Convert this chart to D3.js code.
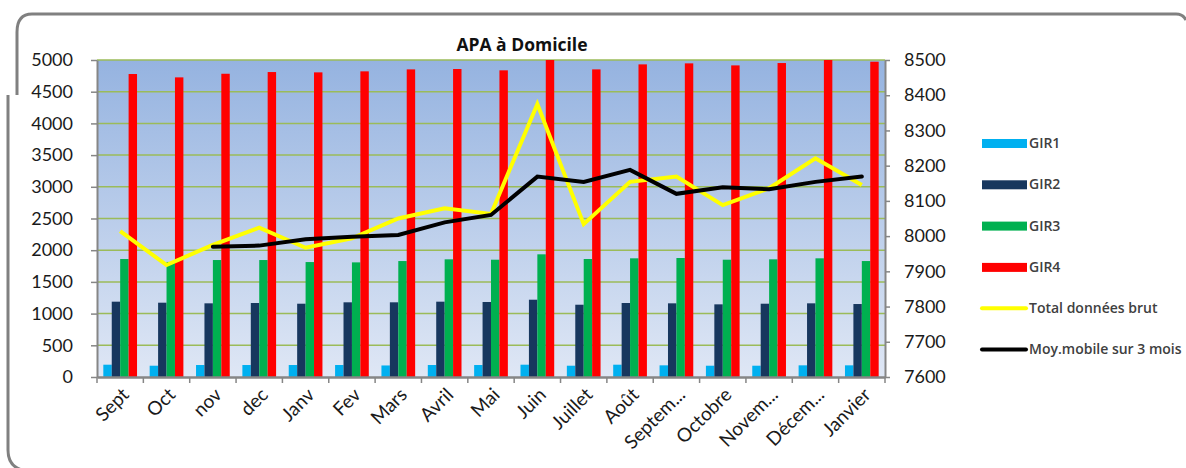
<!DOCTYPE html>
<html>
<head>
<meta charset="utf-8">
<script src="https://cdn.jsdelivr.net/npm/d3@7"></script>
<style>
  body { margin: 0; background: #fff; }
  text { font-family: Lato, "Open Sans", sans-serif; }
</style>
</head>
<body>
<div id="chart"></div>
<script>
// Data
const months = ["Sept", "Oct", "nov", "dec", "Janv", "Fev", "Mars", "Avril", "Mai", "Juin",
  "Juillet", "Août", "Septem...", "Octobre", "Novem...", "Décem...", "Janvier"];
const gir1 = [194, 178, 189, 189, 189, 189, 182, 189, 189, 194, 178, 194, 184, 178, 178, 184, 184];
const gir2 = [1188, 1172, 1162, 1167, 1156, 1178, 1178, 1188, 1183, 1219, 1140, 1167, 1162, 1146, 1156, 1162, 1151];
const gir3 = [1861, 1815, 1845, 1845, 1813, 1808, 1829, 1856, 1850, 1935, 1861, 1872, 1877, 1850, 1856, 1872, 1829];
const gir4 = [4779, 4726, 4783, 4810, 4805, 4821, 4852, 4858, 4837, 5030, 4852, 4931, 4947, 4915, 4952, 5010, 4973];
const total = [8014, 7918, 7975, 8024, 7967, 7994, 8050, 8079, 8063, 8375, 8034, 8154, 8169, 8088, 8136, 8221, 8145];
const moyMobile = [null, null, 7970, 7973, 7991, 7998, 8003, 8039, 8060, 8169, 8154, 8188, 8120, 8139, 8133, 8154, 8169];

const leftTicks = d3.range(0, 5001, 500);
const rightTicks = d3.range(7600, 8501, 100);

const barKeys = ["GIR1", "GIR2", "GIR3", "GIR4"];
const barSeries = [gir1, gir2, gir3, gir4];
const colors = { GIR1: "#00b0f0", GIR2: "#17375e", GIR3: "#00b050", GIR4: "#ff0000" };

const W = 1186, H = 468;
const margin = { top: 60, left: 97, right: W - 885, bottom: H - 377 };
const width = W - margin.left - margin.right;
const height = H - margin.top - margin.bottom;

const svg = d3.select("#chart").append("svg")
  .attr("width", W).attr("height", H);

// outer frame (only partly visible in the original screenshot)
const frame = d3.path();
frame.moveTo(17, 95);
frame.lineTo(17, 32);
frame.quadraticCurveTo(17, 14, 32, 14);
frame.lineTo(1176, 14);
frame.quadraticCurveTo(1183, 14, 1186, 20);
svg.append("path").attr("d", frame.toString())
  .attr("fill", "none").attr("stroke", "#808080").attr("stroke-width", 3);
const frame2 = d3.path();
frame2.moveTo(8, 95);
frame2.lineTo(8, 450);
frame2.quadraticCurveTo(8, 466, 22, 470);
svg.append("path").attr("d", frame2.toString())
  .attr("fill", "none").attr("stroke", "#808080").attr("stroke-width", 3);

// background gradient
const defs = svg.append("defs");
const grad = defs.append("linearGradient").attr("id", "bg")
  .attr("x1", 0).attr("y1", 0).attr("x2", 0).attr("y2", 1);
grad.append("stop").attr("offset", "0%").attr("stop-color", "#95b3e0");
grad.append("stop").attr("offset", "100%").attr("stop-color", "#dfe7f5");
defs.append("clipPath").attr("id", "clip")
  .append("rect").attr("width", width).attr("height", height);

const g = svg.append("g").attr("transform", `translate(${margin.left},${margin.top})`);

g.append("rect").attr("width", width).attr("height", height).attr("fill", "url(#bg)");

// scales
const x0 = d3.scaleBand().domain(months).range([0, width]).paddingInner(0).paddingOuter(0);
const gap = x0.bandwidth() * 1.5 / 5.5;
const x1 = d3.scaleBand().domain(barKeys).range([gap / 2, x0.bandwidth() - gap / 2]);
const yLeft = d3.scaleLinear().domain([0, 5000]).range([height, 0]);
const yRight = d3.scaleLinear().domain([7600, 8500]).range([height, 0]);

// gridlines
g.append("g")
  .selectAll("line")
  .data(leftTicks.slice(1))
  .join("line")
  .attr("x1", 0).attr("x2", width)
  .attr("y1", d => yLeft(d)).attr("y2", d => yLeft(d))
  .attr("stroke", "#9bbb59").attr("stroke-width", 1.5);

// bars
const plot = g.append("g").attr("clip-path", "url(#clip)");
plot.append("g")
  .selectAll("g")
  .data(months)
  .join("g")
  .attr("transform", d => `translate(${x0(d)},0)`)
  .selectAll("rect")
  .data((d, i) => barKeys.map((k, j) => ({ key: k, value: barSeries[j][i] })))
  .join("rect")
  .attr("x", d => x1(d.key))
  .attr("width", x1.bandwidth())
  .attr("y", d => yLeft(d.value))
  .attr("height", d => height - yLeft(d.value))
  .attr("fill", d => colors[d.key]);

// lines on secondary axis
const cx = d => x0(d) + x0.bandwidth() / 2;
const line = d3.line()
  .defined(d => d[1] != null)
  .x(d => cx(d[0]))
  .y(d => yRight(d[1]));

g.append("path")
  .datum(months.map((m, i) => [m, total[i]]))
  .attr("d", line)
  .attr("fill", "none").attr("stroke", "#ffff00").attr("stroke-width", 4)
  .attr("stroke-linejoin", "miter");

g.append("path")
  .datum(months.map((m, i) => [m, moyMobile[i]]))
  .attr("d", line)
  .attr("fill", "none").attr("stroke", "#000").attr("stroke-width", 4)
  .attr("stroke-linecap", "round");

// axes
const axisColor = "#868686";
const styleAxis = sel => {
  sel.selectAll(".domain").attr("stroke", axisColor).attr("stroke-width", 2);
  sel.selectAll(".tick line").attr("stroke", axisColor).attr("stroke-width", 1.5);
  sel.selectAll(".tick text").attr("fill", "#1a1a1a")
    .style("font-family", "Lato, sans-serif").style("font-size", "18px");
};

g.append("g")
  .call(d3.axisLeft(yLeft).tickValues(leftTicks).tickFormat(d3.format("d"))
    .tickSize(6).tickPadding(18).tickSizeOuter(0))
  .call(styleAxis);

g.append("g")
  .attr("transform", `translate(${width},0)`)
  .call(d3.axisRight(yRight).tickValues(rightTicks).tickFormat(d3.format("d"))
    .tickSize(5).tickPadding(14).tickSizeOuter(0))
  .call(styleAxis);

const xAxis = g.append("g")
  .attr("transform", `translate(0,${height})`)
  .call(d3.axisBottom(x0).tickSize(0).tickPadding(0));
xAxis.select(".domain").attr("stroke", axisColor).attr("stroke-width", 2.5);
xAxis.selectAll(".tick text")
  .attr("text-anchor", "end")
  .attr("dy", 0)
  .attr("transform", `translate(10,19) rotate(-45)`)
  .attr("fill", "#1a1a1a")
  .style("font-family", "Lato, sans-serif").style("font-size", "19px");
// category boundary ticks
xAxis.append("g")
  .selectAll("line")
  .data(months.concat(["end"]))
  .join("line")
  .attr("x1", (d, i) => i * x0.bandwidth()).attr("x2", (d, i) => i * x0.bandwidth())
  .attr("y1", 0).attr("y2", 6)
  .attr("stroke", axisColor).attr("stroke-width", 1.5);

// title
svg.append("text")
  .attr("x", 522).attr("y", 51)
  .attr("text-anchor", "middle")
  .style("font-family", "'Open Sans', sans-serif")
  .style("font-weight", "bold").style("font-size", "17.5px")
  .attr("fill", "#111")
  .text("APA à Domicile");

// legend
const legendItems = [
  { label: "GIR1", color: colors.GIR1, type: "bar" },
  { label: "GIR2", color: colors.GIR2, type: "bar" },
  { label: "GIR3", color: colors.GIR3, type: "bar" },
  { label: "GIR4", color: colors.GIR4, type: "bar" },
  { label: "Total données brut", color: "#ffff00", type: "line" },
  { label: "Moy.mobile sur 3 mois", color: "#000", type: "line" }
];
const legend = svg.append("g").attr("transform", "translate(981,143)");
const item = legend.selectAll("g")
  .data(legendItems)
  .join("g")
  .attr("transform", (d, i) => `translate(0,${i * 41.3})`);
item.filter(d => d.type === "bar").append("rect")
  .attr("x", 1).attr("y", -4).attr("width", 45).attr("height", 9)
  .attr("fill", d => d.color);
item.filter(d => d.type === "line").append("line")
  .attr("x1", 1).attr("x2", 45).attr("y1", 0).attr("y2", 0)
  .attr("stroke", d => d.color).attr("stroke-width", 4).attr("stroke-linecap", "round");
item.append("text")
  .attr("x", 48).attr("y", 0).attr("dy", "0.35em")
  .style("font-family", "'Open Sans', sans-serif")
  .style("font-size", "14px").style("font-weight", "600")
  .attr("fill", "#404040")
  .text(d => d.label);
</script>
</body>
</html>
